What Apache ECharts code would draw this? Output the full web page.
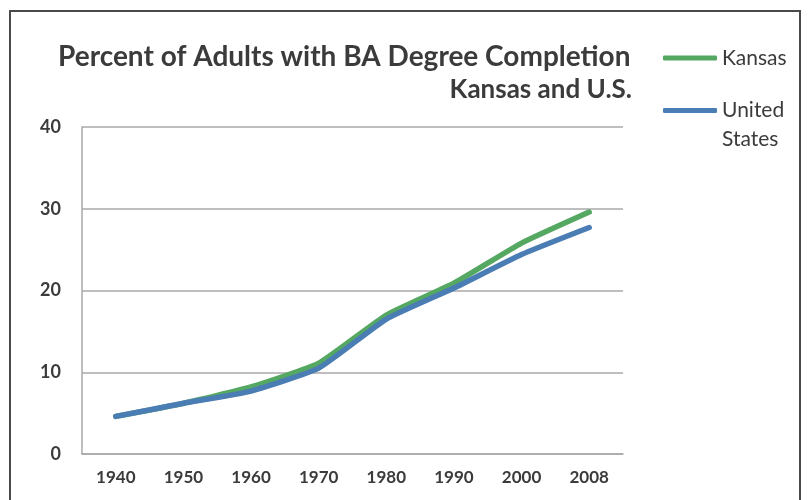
<!DOCTYPE html>
<html><head><meta charset="utf-8">
<script src="https://cdn.jsdelivr.net/npm/echarts@6/dist/echarts.min.js"></script>
<style>html,body{margin:0;padding:0;background:#fff}#c{width:809px;height:500px}</style>
</head><body><div id="c"></div>
<script>
const years = ['1940','1950','1960','1970','1980','1990','2000','2008'];
const kansas = [4.6, 6.2, 8.2, 11.1, 17.0, 20.9, 25.8, 29.6];
const unitedStates = [4.6, 6.2, 7.7, 10.5, 16.5, 20.3, 24.4, 27.7];
const yTicks = [0, 10, 20, 30, 40];
const titleText = 'Percent of Adults with BA Degree Completion';
const subtitleText = 'Kansas and U.S.';

const chart = echarts.init(document.getElementById('c'), null, {renderer:'canvas'});
const font = 'Lato';
const dark = '#3b3b3b';
const green = '#55a862';
const blue = '#4b7db5';
chart.setOption({
  animation: false,
  backgroundColor: '#fff',
  graphic: [{
    type: 'rect', shape: {x: 10, y: 11, width: 790, height: 500},
    style: {fill: 'none', stroke: '#4a4a4a', lineWidth: 2}, silent: true
  }],
  title: [
    {text: titleText, left: 58, top: 43, padding: 0,
     textStyle: {fontFamily: font, fontWeight: 'bold', fontSize: 28, lineHeight: 28, color: dark}},
    {text: subtitleText, right: 177, top: 77, padding: 0,
     textStyle: {fontFamily: font, fontWeight: 'bold', fontSize: 26, lineHeight: 26, color: dark}}
  ],
  legend: [
    {data: ['Kansas'], left: 663, top: 44, orient: 'vertical', padding: 0,
     icon: 'roundRect', itemWidth: 54, itemHeight: 5,
     textStyle: {fontFamily: font, fontSize: 21, color: dark, lineHeight: 28}},
    {data: ['United States'], left: 663, top: 67, orient: 'vertical', padding: 0,
     icon: 'roundRect', itemWidth: 54, itemHeight: 5,
     formatter: () => ' \nUnited\nStates',
     textStyle: {fontFamily: font, fontSize: 21, color: dark, lineHeight: 29}}
  ],
  grid: {left: 82, right: 186, top: 127, bottom: 46, containLabel: false},
  xAxis: {
    type: 'category', data: years, boundaryGap: true,
    axisLine: {show: true, lineStyle: {color: '#a9a9a9', width: 1.5}},
    axisTick: {show: false},
    axisLabel: {fontFamily: font, fontWeight: 'bold', fontSize: 17, color: dark, margin: 15}
  },
  yAxis: {
    type: 'value', min: yTicks[0], max: yTicks[yTicks.length-1], interval: 10,
    axisLine: {show: true, lineStyle: {color: '#a9a9a9', width: 1.5}},
    axisTick: {show: false},
    splitLine: {show: true, lineStyle: {color: '#a9a9a9', width: 1.5}},
    axisLabel: {fontFamily: font, fontWeight: 'bold', fontSize: 18, color: dark, margin: 21}
  },
  series: [
    {name: 'Kansas', type: 'line', data: kansas, showSymbol: false, smooth: 0.15,
     lineStyle: {color: green, width: 5.5, cap: 'round', join: 'round'}, itemStyle: {color: green}, z: 2},
    {name: 'United States', type: 'line', data: unitedStates, showSymbol: false, smooth: 0.15,
     lineStyle: {color: blue, width: 5.5, cap: 'round', join: 'round'}, itemStyle: {color: blue}, z: 3}
  ]
});
</script></body></html>
